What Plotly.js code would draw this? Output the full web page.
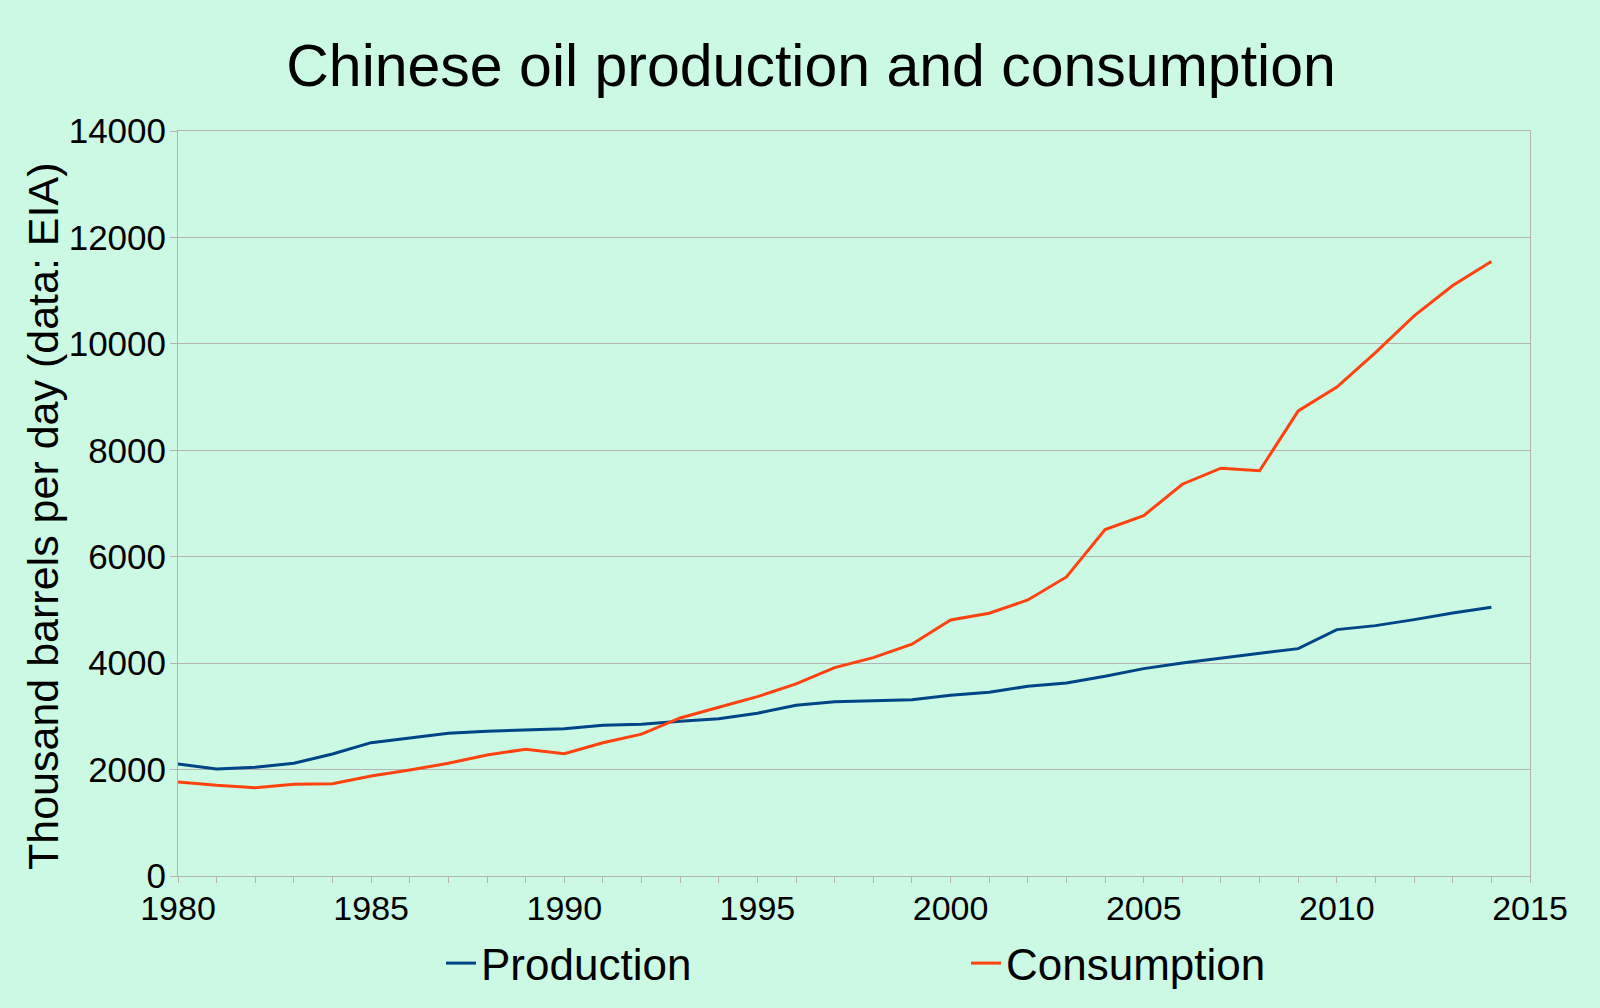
<!DOCTYPE html>
<html>
<head>
<meta charset="utf-8">
<script src="https://cdn.plot.ly/plotly-3.0.1.min.js"></script>
<style>
  html, body { margin: 0; padding: 0; background: #ccf9e3; }
  #chart { width: 1600px; height: 1008px; }
</style>
</head>
<body>
<div id="chart"></div>
<script>
const years = [1980,1981,1982,1983,1984,1985,1986,1987,1988,1989,
               1990,1991,1992,1993,1994,1995,1996,1997,1998,1999,
               2000,2001,2002,2003,2004,2005,2006,2007,2008,2009,
               2010,2011,2012,2013,2014];

const production = [2105,2011,2043,2118,2293,2506,2594,2682,2720,2744,
                    2766,2835,2854,2908,2957,3058,3209,3276,3295,3314,
                    3397,3453,3565,3628,3754,3897,4004,4092,4186,4273,
                    4630,4705,4818,4944,5051];

const consumption = [1767,1705,1660,1724,1735,1880,1992,2118,2274,2382,
                     2299,2503,2666,2970,3171,3370,3609,3915,4103,4355,
                     4812,4938,5188,5620,6509,6773,7362,7664,7615,8741,
                     9188,9836,10526,11096,11547];

const titleText = 'Chinese oil production and consumption';
const yTitleText = 'Thousand barrels per day (data: EIA)';
const seriesNames = ['Production', 'Consumption'];
const seriesColors = ['#004586', '#ff420e'];

const font = 'Liberation Sans, Arial, sans-serif';
const grid = '#b3b3b3';

const traces = [
  { x: years, y: production, name: seriesNames[0], type: 'scatter', mode: 'lines',
    line: { color: seriesColors[0], width: 3 } },
  { x: years, y: consumption, name: seriesNames[1], type: 'scatter', mode: 'lines',
    line: { color: seriesColors[1], width: 3 } }
];

const layout = {
  width: 1600, height: 1008,
  paper_bgcolor: '#ccf9e3', plot_bgcolor: '#ccf9e3',
  font: { family: font, color: '#000000' },
  margin: { l: 178, r: 70, t: 131, b: 132, pad: 0 },
  title: { text: titleText, font: { family: font, size: 59, color: '#000' },
           x: 811/1600, xanchor: 'center', xref: 'container',
           y: 1 - 65/1008, yref: 'container', yanchor: 'middle' },
  xaxis: {
    range: [1980, 2015], tick0: 1980, dtick: 5, showgrid: false, zeroline: false,
    showline: true, linecolor: grid, linewidth: 1, mirror: true,
    ticks: 'outside', ticklen: 6, tickcolor: grid, tickwidth: 1,
    ticklabelstandoff: -4,
    tickfont: { family: font, size: 34, color: '#000' },
    minor: { dtick: 1, ticks: 'outside', ticklen: 6, tickcolor: grid, tickwidth: 1, showgrid: false }
  },
  yaxis: {
    range: [0, 14000], dtick: 2000, tickformat: 'd', showgrid: true, gridcolor: grid, gridwidth: 1, zeroline: false,
    showline: true, linecolor: grid, linewidth: 1, mirror: true,
    ticks: 'outside', ticklen: 7, tickcolor: grid, tickwidth: 1,
    ticklabelstandoff: -3,
    tickfont: { family: font, size: 35, color: '#000' }
  },
  annotations: [{
    text: yTitleText, textangle: -90, showarrow: false,
    xref: 'paper', yref: 'paper',
    x: (43 - 178) / 1352, y: (876 - 517) / 745, xanchor: 'center', yanchor: 'middle',
    font: { family: font, size: 43, color: '#000' }
  }],
  showlegend: true,
  legend: {
    orientation: 'h', xref: 'container', yref: 'container',
    x: 441/1600, xanchor: 'left', y: 1 - 928/1008, yanchor: 'top',
    entrywidth: 480, entrywidthmode: 'pixels',
    font: { family: font, size: 44, color: '#000' },
    bgcolor: 'rgba(0,0,0,0)', borderwidth: 0
  }
};

Plotly.newPlot('chart', traces, layout, { displayModeBar: false, staticPlot: true });
</script>
</body>
</html>
